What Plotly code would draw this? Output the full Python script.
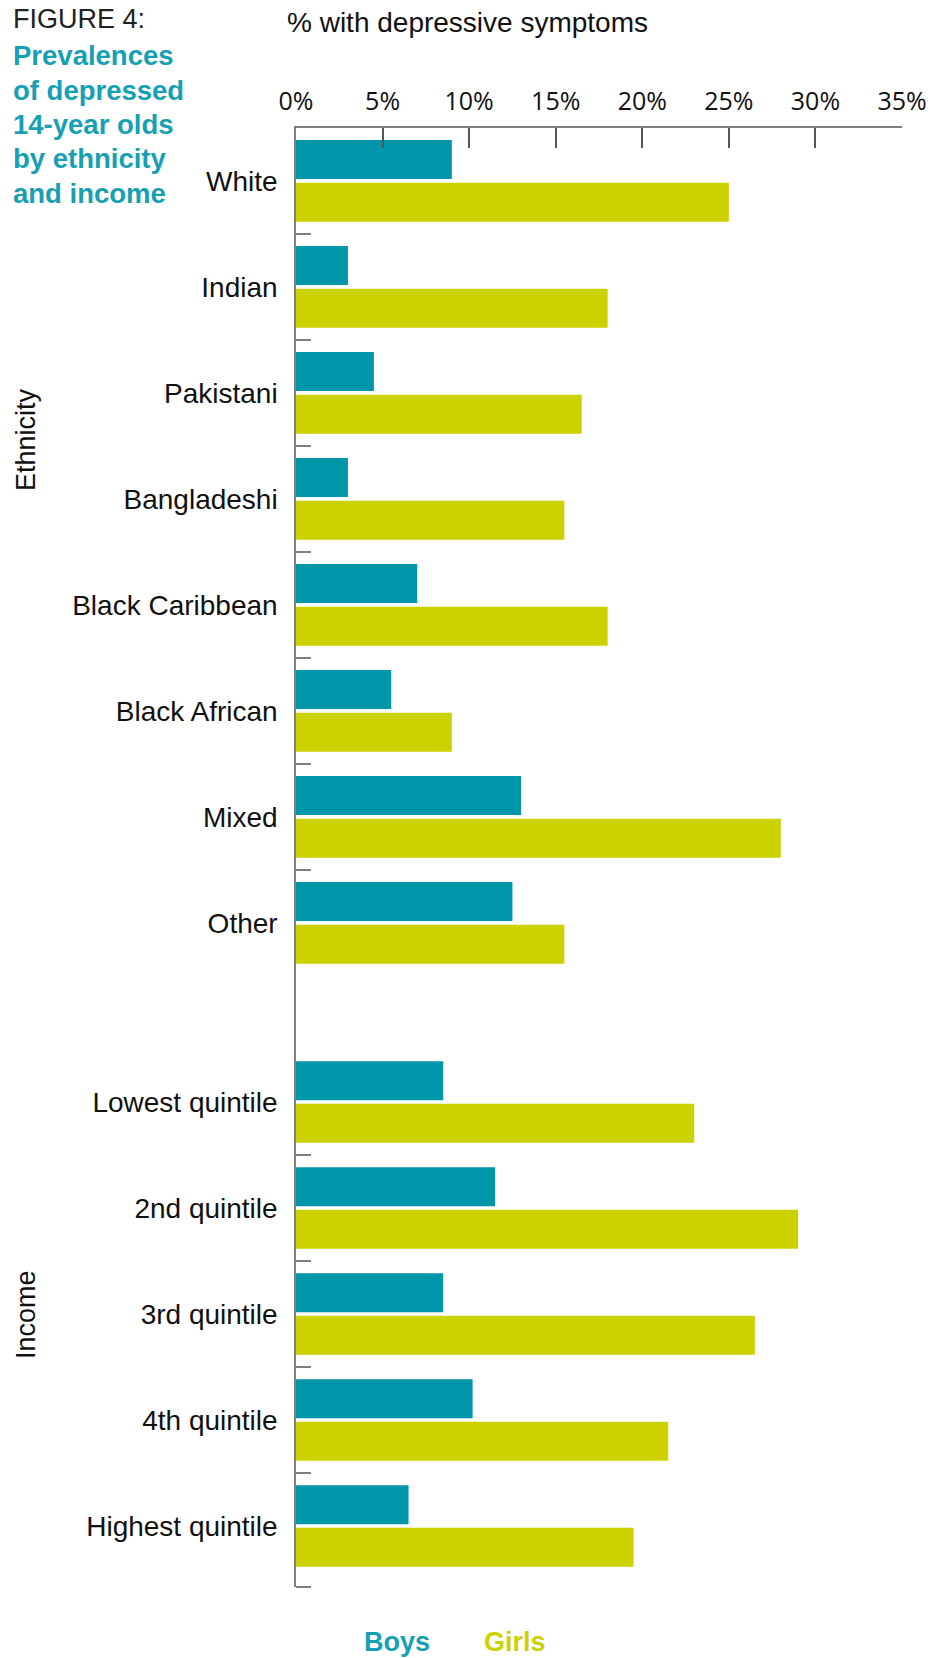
import plotly.graph_objects as go

# ---------------- data ----------------
eth_labels = ["White", "Indian", "Pakistani", "Bangladeshi", "Black Caribbean",
              "Black African", "Mixed", "Other"]
boys_eth = [9.0, 3.0, 4.5, 3.0, 7.0, 5.5, 13.0, 12.5]
girls_eth = [25.0, 18.0, 16.5, 15.5, 18.0, 9.0, 28.0, 15.5]

inc_labels = ["Lowest quintile", "2nd quintile", "3rd quintile", "4th quintile",
              "Highest quintile"]
boys_inc = [8.5, 11.5, 8.5, 10.2, 6.5]
girls_inc = [23.0, 29.0, 26.5, 21.5, 19.5]

x_ticks = [0, 5, 10, 15, 20, 25, 30, 35]
x_tick_text = [f"{v}%" for v in x_ticks]

# ---------------- layout helpers ----------------
W, H = 941, 1658
L, R, T, B = 296, 902, 128, 1587   # plot area in pixels
GAP = 0.689                        # gap between the two groups (category units)
TAIL = 0.075                       # axis extension below the last category

labels = eth_labels + inc_labels
boys = boys_eth + boys_inc
girls = girls_eth + girls_inc
centers = [i + 0.5 for i in range(len(eth_labels))] + \
          [len(eth_labels) + GAP + j + 0.5 for j in range(len(inc_labels))]
y_max = len(eth_labels) + GAP + len(inc_labels) + TAIL
bounds = [float(i) for i in range(1, len(eth_labels))] + \
         [len(eth_labels) + GAP + j for j in range(1, len(inc_labels))] + [y_max]

def px(xp):
    return (xp - L) / (R - L)

def py(yp):
    return (B - yp) / (B - T)

TEAL = "#0096A9"
LIME = "#CCD200"
TITLE_TEAL = "#179FB4"
BARW = 0.368
FONT = "Liberation Sans, Arial, sans-serif"

fig = go.Figure()
fig.add_trace(go.Bar(y=centers, x=boys, orientation="h", name="Boys",
                     marker=dict(color=TEAL, line=dict(width=0)),
                     width=BARW, offset=-0.386, hoverinfo="x"))
fig.add_trace(go.Bar(y=centers, x=girls, orientation="h", name="Girls",
                     marker=dict(color=LIME, line=dict(width=0)),
                     width=BARW, offset=0.017, hoverinfo="x"))

fig.update_layout(
    width=W, height=H,
    margin=dict(l=L, r=W - R, t=T, b=H - B, pad=0),
    paper_bgcolor="white", plot_bgcolor="white",
    showlegend=False, barmode="overlay",
    font=dict(family=FONT, color="#111"),
    xaxis=dict(side="top", range=[0, 35], tickmode="array",
               tickvals=x_ticks, ticktext=x_tick_text,
               ticks="inside", ticklen=20, tickwidth=1.5, tickcolor="#555",
               showline=True, linecolor="#7f7f7f", linewidth=1.5,
               showgrid=False, zeroline=False,
               tickfont=dict(family="Open Sans, sans-serif", size=25, color="#111"),
               ticklabelstandoff=6, fixedrange=True),
    yaxis=dict(range=[y_max, 0], tickmode="array", tickvals=centers,
               ticktext=labels, ticks="", showline=True,
               linecolor="#7f7f7f", linewidth=1.5, showgrid=False,
               zeroline=False,
               tickfont=dict(family=FONT, size=28, color="#111"),
               ticklabelstandoff=11,
               minor=dict(tickmode="array", tickvals=bounds, ticks="inside",
                          ticklen=15, tickwidth=1.5, tickcolor="#7f7f7f",
                          showgrid=False),
               fixedrange=True),
)

ann = []
# title block
ann.append(dict(text="FIGURE 4:", x=px(11), y=py(19), xref="paper", yref="paper",
                xanchor="left", yanchor="middle", showarrow=False,
                font=dict(family=FONT, size=27, color="#222")))
title_lines = ["Prevalences", "of depressed", "14-year olds", "by ethnicity",
               "and income"]
baselines = [65, 99, 133, 168, 202]
for t, b in zip(title_lines, baselines):
    ann.append(dict(text=f"<b>{t}</b>", x=px(11), y=py(b - 9), xref="paper",
                    yref="paper", xanchor="left", yanchor="middle",
                    showarrow=False,
                    font=dict(family=FONT, size=27.5, color=TITLE_TEAL)))
# axis title
ann.append(dict(text="% with depressive symptoms", x=px(285), y=py(23),
                xref="paper", yref="paper", xanchor="left", yanchor="middle",
                showarrow=False, font=dict(family=FONT, size=28, color="#111")))
# group labels
ann.append(dict(text="Ethnicity", x=px(26), y=py(440), xref="paper", yref="paper",
                xanchor="center", yanchor="middle", textangle=-90, showarrow=False,
                font=dict(family=FONT, size=27, color="#111")))
ann.append(dict(text="Income", x=px(26), y=py(1315), xref="paper", yref="paper",
                xanchor="center", yanchor="middle", textangle=-90, showarrow=False,
                font=dict(family=FONT, size=27, color="#111")))
# legend text
ann.append(dict(text="<b>Boys</b>", x=px(362), y=py(1642), xref="paper",
                yref="paper", xanchor="left", yanchor="middle", showarrow=False,
                font=dict(family=FONT, size=27, color=TITLE_TEAL)))
ann.append(dict(text="<b>Girls</b>", x=px(482), y=py(1642), xref="paper",
                yref="paper", xanchor="left", yanchor="middle", showarrow=False,
                font=dict(family=FONT, size=27, color=LIME)))
fig.update_layout(annotations=ann)

fig.write_html("out.html", config={"displayModeBar": False},
               post_script="document.body.style.margin='0px';"
                           "document.body.style.overflow='hidden';")
